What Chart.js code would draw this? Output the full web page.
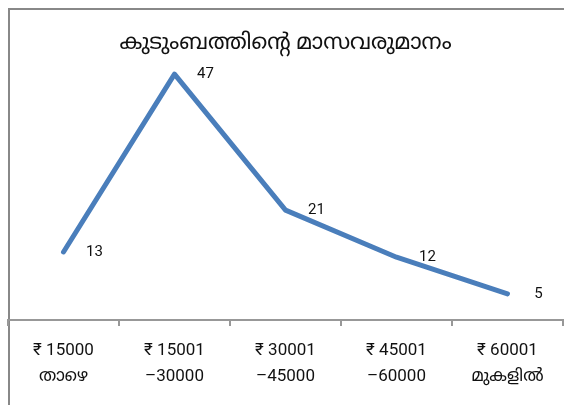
<!DOCTYPE html>
<html>
<head>
<meta charset="utf-8">
<script src="https://cdn.jsdelivr.net/npm/chart.js@4/dist/chart.umd.min.js"></script>
<style>
  html, body { margin: 0; padding: 0; background: #fff; }
  #wrap { position: relative; width: 564px; height: 405px; }
</style>
</head>
<body>
<div id="wrap"><canvas id="chartCanvas" width="564" height="405"></canvas></div>
<script>
(function() {
  'use strict';

  const chartTitle = 'കുടുംബത്തിന്റെ മാസവരുമാനം';
  const categories = [
    ['₹ 15000', 'താഴെ'],
    ['₹ 15001', '–30000'],
    ['₹ 30001', '–45000'],
    ['₹ 45001', '–60000'],
    ['₹ 60001', 'മുകളിൽ']
  ];
  const familyCounts = [13, 47, 21, 12, 5];

  const fontFamily = "Roboto, 'Noto Sans Malayalam', 'Noto Sans', sans-serif";
  const lineBlue = '#4a7ebb';
  const axisGray = '#989898';

  // Frame: only the left and top edges of the outer box show
  const framePlugin = {
    id: 'frame',
    beforeDraw(chart) {
      const ctx = chart.ctx;
      ctx.save();
      ctx.strokeStyle = '#888';
      ctx.lineWidth = 2;
      ctx.beginPath();
      ctx.moveTo(9, chart.height);
      ctx.lineTo(9, 9);
      ctx.lineTo(chart.width, 9);
      ctx.stroke();
      ctx.restore();
    }
  };

  // Value labels sit to the right of each point
  const valueLabels = {
    id: 'valueLabels',
    afterDatasetsDraw(chart) {
      const ctx = chart.ctx;
      const meta = chart.getDatasetMeta(0);
      ctx.save();
      ctx.fillStyle = '#111';
      ctx.font = '15px ' + fontFamily;
      ctx.textAlign = 'center';
      ctx.textBaseline = 'middle';
      meta.data.forEach((pt, i) => {
        ctx.fillText(String(familyCounts[i]), pt.x + 31, pt.y);
      });
      ctx.restore();
    }
  };

  const ctx = document.getElementById('chartCanvas').getContext('2d');

  new Chart(ctx, {
    type: 'line',
    data: {
      labels: categories,
      datasets: [{
        data: familyCounts,
        borderColor: lineBlue,
        borderWidth: 5,
        borderCapStyle: 'round',
        borderJoinStyle: 'round',
        pointRadius: 0,
        tension: 0,
        fill: false
      }]
    },
    options: {
      responsive: false,
      animation: false,
      layout: { padding: { left: 8, right: 1, top: 0, bottom: 0 } },
      plugins: {
        legend: { display: false },
        tooltip: { enabled: false },
        title: {
          display: true,
          text: chartTitle,
          color: '#111',
          font: { family: fontFamily, size: 22, weight: 'normal' },
          padding: { top: 30, bottom: 2 }
        }
      },
      scales: {
        x: {
          offset: true,
          grid: {
            offset: true,
            drawOnChartArea: false,
            drawTicks: true,
            tickLength: 6,
            color: axisGray,
            lineWidth: 2
          },
          border: { display: true, color: axisGray, width: 2 },
          ticks: {
            color: '#111',
            padding: 12,
            maxRotation: 0,
            autoSkip: false,
            font: { family: fontFamily, size: 17, lineHeight: 1.5 }
          },
          afterFit(scale) { scale.height = 85; }
        },
        y: {
          display: false,
          min: 0,
          max: 50
        }
      }
    },
    plugins: [framePlugin, valueLabels]
  });
})();
</script>
</body>
</html>
